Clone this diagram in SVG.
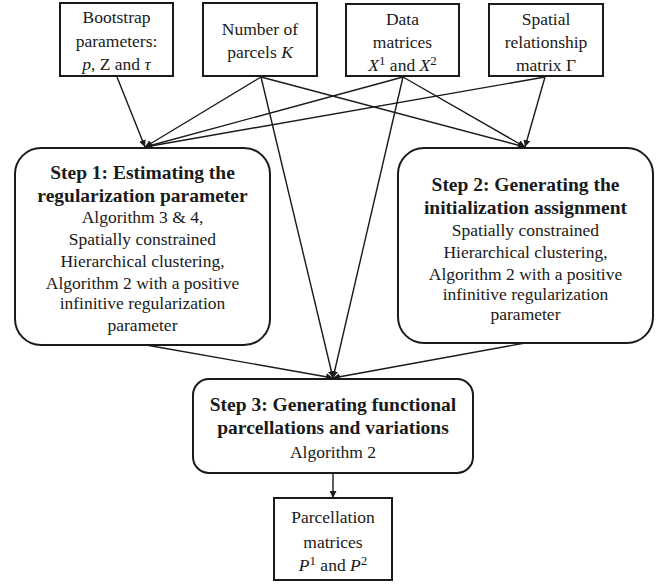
<svg xmlns="http://www.w3.org/2000/svg" width="667" height="585" viewBox="0 0 667 585">
<style>
text{font-family:"Liberation Serif","Times New Roman",serif;fill:#1a1a1a;text-anchor:middle}
.t{font-size:17.5px}
.b{font-size:19.5px;font-weight:bold}
.box{fill:#fff;stroke:#1a1a1a;stroke-width:2}
.e{stroke:#1a1a1a;stroke-width:1.4;fill:none;marker-end:url(#ah)}
.i{font-style:italic}
.sup{font-size:13px}
</style>
<defs>
<marker id="ah" viewBox="0 0 10 10" refX="10" refY="5" markerWidth="7" markerHeight="7" orient="auto" markerUnits="userSpaceOnUse">
<path d="M0,0 L10,5 L0,10 z" fill="#1a1a1a"/>
</marker>
</defs>
<g id="connectors">
<line class="e" x1="117" y1="77" x2="145" y2="147"/>
<line class="e" x1="261" y1="77" x2="145" y2="147"/>
<line class="e" x1="261" y1="77" x2="333" y2="378"/>
<line class="e" x1="261" y1="77" x2="525" y2="147"/>
<line class="e" x1="403" y1="77" x2="145" y2="147"/>
<line class="e" x1="403" y1="77" x2="333" y2="378"/>
<line class="e" x1="403" y1="77" x2="525" y2="147"/>
<line class="e" x1="545" y1="77" x2="145" y2="147"/>
<line class="e" x1="545" y1="77" x2="525" y2="147"/>
<line class="e" x1="146" y1="345" x2="333" y2="378"/>
<line class="e" x1="525" y1="343" x2="333" y2="378"/>
<line class="e" x1="333" y1="473" x2="333" y2="498"/>
</g>
<g id="bootstrap">
<rect class="box" x="60" y="3" width="113" height="73"/>
<text class="t" x="116.5" y="23">Bootstrap</text>
<text class="t" x="116.5" y="47">parameters:</text>
<text class="t" x="116.5" y="70"><tspan class="i">p</tspan>, Z and <tspan class="i">τ</tspan></text>
</g>
<g id="parcels">
<rect class="box" x="203" y="3" width="114" height="73"/>
<text class="t" x="260" y="35">Number of</text>
<text class="t" x="260" y="58">parcels <tspan class="i">K</tspan></text>
</g>
<g id="data">
<rect class="box" x="346" y="4" width="113" height="72"/>
<text class="t" x="402.5" y="25">Data</text>
<text class="t" x="402.5" y="48">matrices</text>
<text class="t" x="402.5" y="71"><tspan class="i">X</tspan><tspan class="sup" dy="-6">1</tspan><tspan dy="6"> and </tspan><tspan class="i">X</tspan><tspan class="sup" dy="-6">2</tspan></text>
</g>
<g id="spatial">
<rect class="box" x="489" y="4" width="114" height="72"/>
<text class="t" x="546" y="25">Spatial</text>
<text class="t" x="546" y="48">relationship</text>
<text class="t" x="546" y="71">matrix Γ</text>
</g>
<g id="step1">
<rect class="box" x="15" y="148" width="255" height="197" rx="26"/>
<text class="b" x="142.5" y="179">Step 1: Estimating the</text>
<text class="b" x="142.5" y="202">regularization parameter</text>
<text class="t" x="142.5" y="223">Algorithm 3 &amp; 4,</text>
<text class="t" x="142.5" y="245">Spatially constrained</text>
<text class="t" x="142.5" y="267">Hierarchical clustering,</text>
<text class="t" x="142.5" y="289">Algorithm 2 with a positive</text>
<text class="t" x="142.5" y="309">infinitive regularization</text>
<text class="t" x="142.5" y="331">parameter</text>
</g>
<g id="step2">
<rect class="box" x="398" y="148" width="255" height="195" rx="26"/>
<text class="b" x="525.5" y="191">Step 2: Generating the</text>
<text class="b" x="525.5" y="214">initialization assignment</text>
<text class="t" x="525.5" y="236">Spatially constrained</text>
<text class="t" x="525.5" y="258">Hierarchical clustering,</text>
<text class="t" x="525.5" y="280">Algorithm 2 with a positive</text>
<text class="t" x="525.5" y="300">infinitive regularization</text>
<text class="t" x="525.5" y="320">parameter</text>
</g>
<g id="step3">
<rect class="box" x="193" y="379" width="280" height="94" rx="16"/>
<text class="b" x="333" y="411">Step 3: Generating functional</text>
<text class="b" x="333" y="434">parcellations and variations</text>
<text class="t" x="333" y="458">Algorithm 2</text>
</g>
<g id="parcellation">
<rect class="box" x="274" y="498" width="118" height="82"/>
<text class="t" x="333" y="523">Parcellation</text>
<text class="t" x="333" y="548">matrices</text>
<text class="t" x="333" y="571"><tspan class="i">P</tspan><tspan class="sup" dy="-6">1</tspan><tspan dy="6"> and </tspan><tspan class="i">P</tspan><tspan class="sup" dy="-6">2</tspan></text>
</g>
</svg>
